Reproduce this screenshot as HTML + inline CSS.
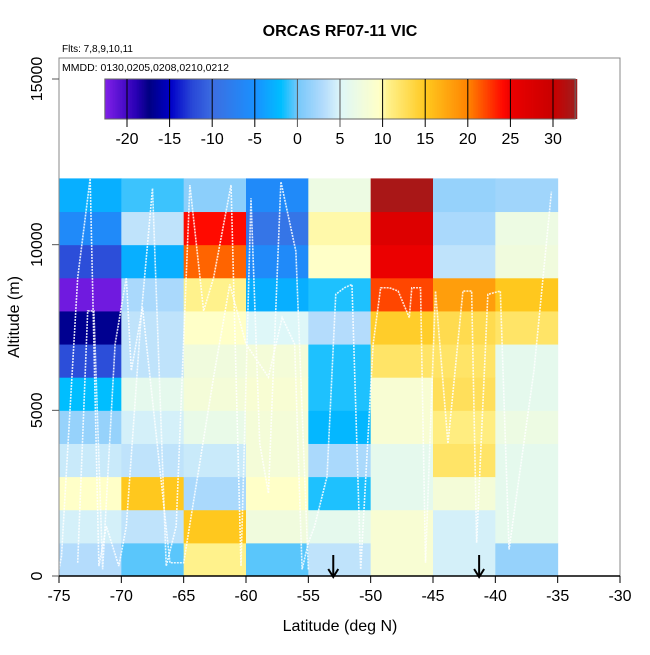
<!DOCTYPE html>
<html><head><meta charset="utf-8"><style>
body{margin:0;background:#fff}
svg text{font-family:"Liberation Sans",Arial,sans-serif}
</style></head><body>
<svg id="c" width="650" height="650" xmlns="http://www.w3.org/2000/svg">
<text x="340" y="36" text-anchor="middle" font-size="16" font-weight="bold">ORCAS RF07-11 VIC</text>
<text x="62" y="52" font-size="10">Flts: 7,8,9,10,11</text>
<g id="heat"></g>
<g id="tracks"></g>
<g id="cbar"></g>
<rect x="59" y="58" width="561" height="518" fill="none" stroke="#888" stroke-width="1"/>
<text x="62" y="71" font-size="10.5">MMDD: 0130,0205,0208,0210,0212</text>
<g id="axes"></g>
<text x="340" y="631" text-anchor="middle" font-size="16">Latitude (deg N)</text>
<text transform="translate(19,317) rotate(-90)" text-anchor="middle" font-size="16">Altitude (m)</text>
</svg>
<script>
const latEdges=[-75,-70,-65,-60,-55,-50,-45,-40,-35];
const altEdges=[0,1000,2000,3000,4000,5000,6000,7000,8000,9000,10000,11000,12000];
// values[row] rows from 0-1km upward, columns from -75 to -40
const values=[
[3,-0.5,10.5,-0.5,3.5,8.5,4.5,1.5],
[4.5,3.5,15,7.5,6,8.5,4.5,6],
[9.5,15,2.5,9.5,-1.5,6,8,6],
[4,3.5,4,8,2.5,6,12,6],
[1.5,4.5,6.5,8,-2.5,8.5,11,7],
[-2,6,8,8.5,-1.5,8.5,12.5,6],
[-12,3.5,7.5,8,-1.5,12,12,6],
[-17,3.5,9.5,5,3,14.5,13,12],
[-22,2.5,10.5,-3,-1.5,22,18,15],
[-12,-3,21,-6,9.5,25,3.5,7.5],
[-6,3.5,24,-9,10,27,2.5,7],
[-3,-1,1,-6,7,32,1.5,2]
];
const xTicks=[-75,-70,-65,-60,-55,-50,-45,-40,-35,-30];
const yTicks=[0,5000,10000,15000];
const cbTicks=[-20,-15,-10,-5,0,5,10,15,20,25,30];
const arrowLats=[-53,-41.3];
const track1Lat=[-75,-74.8,-73.5,-72.5,-71.8,-71.2,-70.2,-69.6,-68.4,-67.5,-66.4,-65.6,-64.5,-63.4,-62.6,-61.2,-60.4,-59.6,-58.9,-58.2,-57.2,-56,-55];
const track1Alt=[200,600,9000,12000,300,1500,300,1500,7900,11700,300,1500,11800,8000,9000,11800,300,11400,4000,2500,11900,9800,200];
const track2Lat=[-73.5,-72.7,-72.2,-71.5,-70.5,-69.6,-69.2,-68.3,-66.1,-65,-62.6,-61.9,-61.3,-60,-58.2,-57.1,-56.1,-55.5,-55,-54.5,-53.5,-52.8,-52.1,-51.5,-50.8,-49.8,-49.2,-48.5,-47.8,-46.9,-46.7,-46,-45.6,-44.8,-43.8,-42.6,-41.9,-41.5,-40.6,-39.6,-38.9,-36.9,-35.5];
const track2Alt=[400,8000,8000,200,7000,9000,6200,8100,400,400,6000,7500,8800,7000,6000,7800,7000,200,1000,1500,3000,8500,8700,8800,200,7000,8700,8700,8600,7800,8700,8700,400,8600,4000,8600,8600,1000,8500,8600,800,6200,11600];
const ns="http://www.w3.org/2000/svg";
const X=v=>59+(v+75)*561/45;
const Y=v=>576-v*497/15000;
const stops=[[-22.6,[127,31,232]],[-19,[40,0,180]],[-17.5,[0,0,130]],[-15,[0,0,200]],[-12.5,[40,70,215]],[-10,[60,110,225]],[-5,[25,145,255]],[-2,[0,190,255]],[0,[120,200,250]],[3,[180,220,252]],[5,[222,247,248]],[9.5,[255,255,200]],[10.5,[255,242,140]],[15,[255,200,30]],[20,[255,130,0]],[24,[255,10,0]],[25,[235,0,0]],[30,[200,0,0]],[32.6,[160,30,30]]];
function col(v){
 if(v<=stops[0][0])return`rgb(${stops[0][1]})`;
 for(let i=1;i<stops.length;i++){if(v<=stops[i][0]){const a=stops[i-1],b=stops[i],t=(v-a[0])/(b[0]-a[0]);
 return`rgb(${a[1].map((c,k)=>Math.round(c+(b[1][k]-c)*t)).join(',')})`;}}
 return`rgb(${stops[stops.length-1][1]})`;
}
function mk(tag,at,parent){const e=document.createElementNS(ns,tag);for(const k in at)e.setAttribute(k,at[k]);parent.appendChild(e);return e;}
const heat=document.getElementById('heat');
values.forEach((row,r)=>row.forEach((v,c)=>{
 const e=mk('rect',{x:X(latEdges[c]),y:Y(altEdges[r+1]),width:X(latEdges[c+1])-X(latEdges[c])+0.5,height:Y(altEdges[r])-Y(altEdges[r+1])+0.5,fill:col(v)},heat);
 
 
}));
const tr=document.getElementById('tracks');
[[track1Lat,track1Alt],[track2Lat,track2Alt]].forEach(([la,al])=>{
 const e=mk('polyline',{points:la.map((l,i)=>X(l)+','+Y(al[i])).join(' '),fill:'none',stroke:'#fff','stroke-width':1.6,'stroke-dasharray':'2 1','stroke-opacity':0.85},tr);
 
 
});
const cb=document.getElementById('cbar');
const CX=v=>127+(v+20)*426/50;
for(let v=-22.6;v<32.6;v+=0.2){const e=mk('rect',{x:CX(v),y:79,width:426/50*0.2+0.4,height:40,fill:col(v)},cb);}
mk('rect',{x:CX(-22.6),y:79,width:CX(32.6)-CX(-22.6),height:40,fill:'none',stroke:'#666'},cb);
cbTicks.forEach(t=>{
 const l=mk('line',{x1:CX(t),x2:CX(t),y1:79,y2:127,stroke:(t==0||t==5)?'#555':'#000','stroke-width':1},cb);
 
 
 const tx=mk('text',{x:CX(t),y:144,'text-anchor':'middle','font-size':16},cb);tx.textContent=t;
 
 
});
const ax=document.getElementById('axes');
mk('line',{x1:59,x2:620,y1:576,y2:576,stroke:'#000','stroke-width':1.5},ax);
xTicks.forEach(t=>{
 mk('line',{x1:X(t),x2:X(t),y1:576,y2:583,stroke:'#000'},ax);
 const tx=mk('text',{x:X(t),y:601,'text-anchor':'middle','font-size':16},ax);tx.textContent=t;
 
 
});
yTicks.forEach(t=>{
 mk('line',{x1:52,x2:59,y1:Y(t),y2:Y(t),stroke:'#555'},ax);
 const tx=mk('text',{transform:`translate(42,${Y(t)}) rotate(-90)`,'text-anchor':'middle','font-size':16},ax);tx.textContent=t;
 
 
});
arrowLats.forEach(a=>{
 const g=mk('g',{},ax);
 
 
 mk('line',{x1:X(a),x2:X(a),y1:555,y2:577,stroke:'#000','stroke-width':2},g);
 mk('polyline',{points:`${X(a)-5},${569} ${X(a)},${577} ${X(a)+5},${569}`,fill:'none',stroke:'#000','stroke-width':2},g);
});
</script>
</body></html>
